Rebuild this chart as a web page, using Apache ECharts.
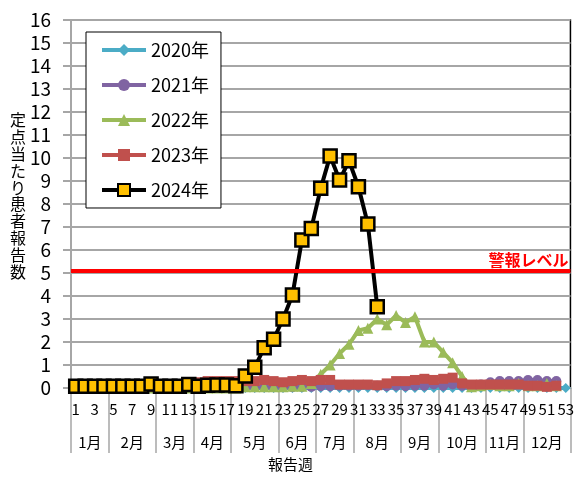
<!DOCTYPE html>
<html><head><meta charset="utf-8">
<script src="https://cdn.jsdelivr.net/npm/echarts@6/dist/echarts.min.js"></script>
<style>html,body{margin:0;padding:0;background:#fff}#c{width:577px;height:477px}</style>
</head><body><div id="c"></div>
<script>
const weeks = ['1','2','3','4','5','6','7','8','9','10','11','12','13','14','15','16','17','18','19','20','21','22','23','24','25','26','27','28','29','30','31','32','33','34','35','36','37','38','39','40','41','42','43','44','45','46','47','48','49','50','51','52','53'];
const monthNames = ['1月','2月','3月','4月','5月','6月','7月','8月','9月','10月','11月','12月'];
const monthBounds = [0,4,9,13,17,22,26,30,35,39,44,48,53];
const yTicks = [0,16,1];
const warnLevel = 5.1;
const warnLabel = '警報レベル';
const yName = '定点当たり患者報告数';
const xName = '報告週';

const s2020 = [0.05,0.15,0.05,0,0,0,0,0,0,0,0,0,0,0,0,0,0,0,0,0,0,0,0,0,0,0,0,0,0,0,0,0,0,0,0,0,0,0,0,0,0,0,0,0,0,0,0,0,0,0,0,0,0];
const s2021 = [0,0,0,0,0,0,0,0,0,0,0,0,0,0,0,0,0,0,0.03,0.03,0.03,0.03,0.03,0.03,0.05,0.05,0.08,0.08,0.1,0.1,0.1,0.12,0.1,0.08,0.1,0.08,0.1,0.1,0.15,0.1,0.15,0.1,0.12,0.15,0.25,0.3,0.3,0.3,0.35,0.35,0.3,0.3];
const s2022 = [0,0,0,0,0,0,0,0,0,0,0,0,0,0,0,0,0,0,0.05,0.05,0.05,0.05,0.05,0.08,0.08,0.2,0.6,1.0,1.5,1.9,2.5,2.6,3.0,2.75,3.15,2.85,3.1,2.0,2.0,1.55,1.1,0.5,0.05,0.1,0.15,0.1,0.1,0.2,0.1,0.1,0.2,0.1];
const s2023 = [0.05,0.05,0.05,0.05,0.05,0.05,0.05,0.05,0.05,0.05,0.05,0.05,0.05,0.25,0.3,0.3,0.3,0.3,0.3,0.3,0.35,0.3,0.25,0.3,0.35,0.3,0.35,0.35,0.15,0.15,0.15,0.15,0.12,0.2,0.3,0.3,0.35,0.4,0.35,0.4,0.45,0.2,0.15,0.15,0.15,0.15,0.15,0.15,0.1,0.1,0.05,0.1];
const s2024 = [0.08,0.08,0.08,0.08,0.08,0.08,0.08,0.08,0.17,0.08,0.08,0.08,0.15,0.08,0.12,0.13,0.13,0.1,0.52,0.9,1.75,2.12,3.0,4.04,6.43,6.94,8.68,10.09,9.04,9.88,8.75,7.13,3.53];

const FONT = '"Noto Sans CJK JP", sans-serif';
const monthMids = monthBounds.slice(0, -1).map((b, i) => (b + monthBounds[i + 1]) / 2);

const chart = echarts.init(document.getElementById('c'), null, {renderer: 'canvas'});
chart.setOption({
  animation: false,
  textStyle: {fontFamily: FONT},
  grid: {left: 71, right: 1, top: 20, bottom: 89, show: true, borderColor: '#000', borderWidth: 1.5, containLabel: false},
  legend: {
    orient: 'vertical', left: 86, top: 32,
    padding: [9, 12, 9, 14], itemGap: 17, itemWidth: 44, itemHeight: 15,
    backgroundColor: '#fff', borderColor: '#000', borderWidth: 1,
    lineStyle: {width: 4},
    textStyle: {fontSize: 18, color: '#000', fontFamily: FONT},
    data: ['2020年','2021年','2022年','2023年','2024年']
  },
  graphic: [
    {type: 'text', left: 10, top: 112, style: {text: yName.split('').join('\n'), font: '16px ' + FONT, lineHeight: 16.8, fill: '#000'}},
  ],
  title: {text: xName, left: 268, top: 457, textStyle: {fontSize: 15, fontWeight: 'normal', color: '#000', fontFamily: FONT}, padding: 0},
  xAxis: [
    {type: 'category', data: weeks, boundaryGap: true, position: 'bottom',
     axisLine: {show: true, lineStyle: {color: '#a6a6a6', width: 2}},
     axisTick: {show: false},
     axisLabel: {interval: 1, fontSize: 15, color: '#000', margin: 14, fontFamily: FONT}},
    {type: 'value', min: 0, max: 53, position: 'bottom', offset: 0,
     axisLine: {show: false}, splitLine: {show: false},
     axisTick: {show: true, customValues: monthBounds, length: 65, lineStyle: {color: '#a6a6a6', width: 1.5}},
     axisLabel: {customValues: monthMids, fontSize: 15, color: '#000', margin: 47, fontFamily: FONT,
       formatter: function (v) { let k = 0, d = 1e9; monthMids.forEach((m, i) => { if (Math.abs(m - v) < d) { d = Math.abs(m - v); k = i; } }); return monthNames[k]; }}}
  ],
  yAxis: {type: 'value', min: yTicks[0], max: yTicks[1], interval: yTicks[2],
    axisLine: {show: true, lineStyle: {color: '#a6a6a6', width: 2}},
    axisTick: {show: true, length: 8, lineStyle: {color: '#a6a6a6', width: 2}},
    splitLine: {lineStyle: {color: '#a6a6a6', width: 2}},
    axisLabel: {fontSize: 19, color: '#000', margin: 20, fontFamily: FONT}},
  series: [
    {name: '2020年', type: 'line', data: s2020, symbol: 'diamond', symbolSize: 10, showAllSymbol: true,
     itemStyle: {color: '#4BACC6'}, lineStyle: {color: '#4BACC6', width: 4},
     markLine: {silent: true, symbol: 'none', data: [{yAxis: warnLevel}],
       lineStyle: {color: '#ff0000', width: 4, type: 'solid'},
       label: {show: true, formatter: warnLabel, position: 'insideEndTop', color: '#ff0000', fontWeight: 'bold', fontSize: 16, fontFamily: FONT, distance: [2, 3]}}},
    {name: '2021年', type: 'line', data: s2021, symbol: 'circle', symbolSize: 10, showAllSymbol: true,
     itemStyle: {color: '#8064A2'}, lineStyle: {color: '#8064A2', width: 4}},
    {name: '2022年', type: 'line', data: s2022, symbol: 'triangle', symbolSize: 11, showAllSymbol: true,
     itemStyle: {color: '#9BBB59'}, lineStyle: {color: '#9BBB59', width: 4}},
    {name: '2023年', type: 'line', data: s2023, symbol: 'rect', symbolSize: 10, showAllSymbol: true,
     itemStyle: {color: '#C0504D'}, lineStyle: {color: '#C0504D', width: 4}},
    {name: '2024年', type: 'line', data: s2024, symbol: 'rect', symbolSize: 13, showAllSymbol: true,
     itemStyle: {color: '#FFC000', borderColor: '#000', borderWidth: 2.5}, lineStyle: {color: '#000', width: 4}}
  ]
});
</script></body></html>
